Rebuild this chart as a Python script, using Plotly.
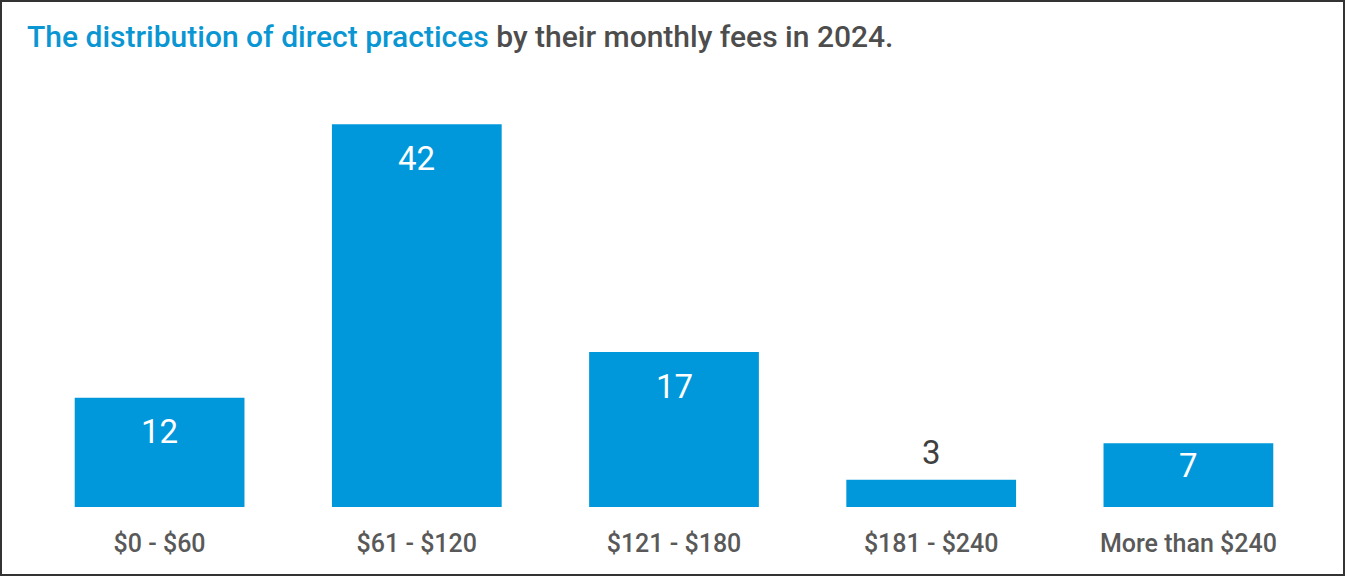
import plotly.graph_objects as go

categories = ["$0 - $60", "$61 - $120", "$121 - $180", "$181 - $240", "More than $240"]
values = [12, 42, 17, 3, 7]
title_blue = "The distribution of direct practices"
title_gray = " by their monthly fees in 2024."

BLUE = "#0098DA"
FONT = "Roboto, Arial, sans-serif"
W, H = 1345, 576
ML, MR, MT, MB = 31, 28, 97, 69
PW, PH = W - ML - MR, H - MT - MB

fig = go.Figure(go.Bar(x=categories, y=values, marker=dict(color=BLUE, line=dict(width=0)),
                       hoverinfo="skip"))

for c, v in zip(categories, values):
    if v >= 5:
        shift = -34 if v >= 10 else -22
        fig.add_annotation(x=c, y=v, text=str(v), showarrow=False, yanchor="middle",
                           yshift=shift, font=dict(family=FONT, size=33, color="white"))
    else:
        fig.add_annotation(x=c, y=v, text=str(v), showarrow=False, yanchor="middle",
                           yshift=27, font=dict(family=FONT, size=33, color="#404040"))

fig.update_layout(
    width=W, height=H,
    margin=dict(l=ML, r=MR, t=MT, b=MB),
    paper_bgcolor="white", plot_bgcolor="white",
    bargap=0.34,
    showlegend=False,
    title=dict(text=f"<span style='color:#0A96D2'>{title_blue}</span><span style='color:#4D4D4D'>{title_gray}</span>",
               x=27/W, xref="container", xanchor="left",
               y=1-36/H, yref="container", yanchor="middle",
               font=dict(family=FONT, size=30, weight=500)),
    xaxis=dict(showgrid=False, showline=False, zeroline=False, ticks="outside", ticklen=14,
               tickcolor="rgba(0,0,0,0)",
               tickfont=dict(family=FONT, size=25, color="#595959", weight=500)),
    yaxis=dict(range=[0, 45], visible=False, showgrid=False, zeroline=False),
)
# border around whole image
fig.add_shape(type="rect", xref="x domain", yref="y domain",
              x0=(-ML + 1) / PW, x1=1 + (MR - 1) / PW, y0=(-MB + 1) / PH, y1=1 + (MT - 1) / PH,
              line=dict(color="#333333", width=2))

fig.write_html("out.html", config={"displayModeBar": False},
               post_script="document.body.style.margin='0';document.body.style.overflow='hidden';")
